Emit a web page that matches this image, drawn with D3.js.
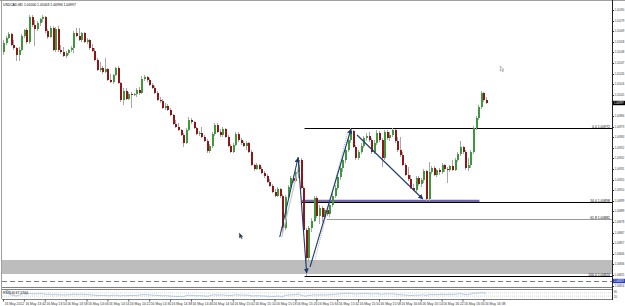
<!DOCTYPE html>
<html>
<head>
<meta charset="utf-8">
<script src="https://cdn.jsdelivr.net/npm/d3@7/dist/d3.min.js"></script>
<style>
  body { margin: 0; background: #fff; }
  svg { display: block; }
  text { font-family: "Liberation Sans", Arial, sans-serif; }
</style>
</head>
<body>
<div id="chart"></div>
<script>
// ---- data (USDCAD M1, 16 May 2012) ----
const symbol = "USDCAD,M1";

const open = [
  1.01048,1.01057,1.01062,1.01066,1.01055,1.01052,1.01045,1.01050,1.01064,1.01070,
  1.01058,1.01083,1.01075,1.01071,1.01077,1.01081,1.01083,1.01069,1.01063,1.01072,
  1.01050,1.01071,1.01050,1.01048,1.01044,1.01047,1.01050,1.01052,1.01067,1.01064,
  1.01060,1.01067,1.01058,1.01060,1.01052,1.01049,1.01040,1.01030,1.01032,1.01028,
  1.01031,1.01020,1.01018,1.01025,1.01032,1.01017,1.01000,1.01009,1.01001,1.01006,
  1.01005,1.01006,1.01010,1.01007,1.01021,1.01023,1.01020,1.01015,1.01012,1.01007,
  1.01000,1.00999,1.00992,1.00994,1.00990,1.00985,1.00976,1.00973,1.00970,1.00965,
  1.00957,1.00970,1.00980,1.00978,1.00972,1.00966,1.00967,1.00963,1.00959,1.00949,
  1.00954,1.00966,1.00975,1.00968,1.00965,1.00971,1.00963,1.00954,1.00948,1.00955,
  1.00966,1.00960,1.00957,1.00954,1.00957,1.00948,1.00935,1.00931,1.00935,1.00931,
  1.00927,1.00924,1.00918,1.00914,1.00908,1.00904,1.00911,1.00904,1.00872,1.00903,
  1.00913,1.00922,1.00919,1.00928,1.00940,1.00912,1.00870,1.00842,1.00872,1.00879,
  1.00902,1.00884,1.00892,1.00883,1.00890,1.00886,1.00895,1.00904,1.00912,1.00923,
  1.00932,1.00940,1.00950,1.00960,1.00969,1.00953,1.00942,1.00948,1.00954,1.00962,
  1.00964,1.00960,1.00948,1.00957,1.00967,1.00960,1.00942,1.00968,1.00962,1.00965,
  1.00970,1.00959,1.00950,1.00945,1.00935,1.00925,1.00921,1.00912,1.00910,1.00922,
  1.00916,1.00920,1.00929,1.00901,1.00928,1.00932,1.00925,1.00930,1.00928,1.00935,
  1.00931,1.00930,1.00934,1.00930,1.00940,1.00946,1.00953,1.00948,1.00932,1.00935,
  1.00948,1.00972,1.00982,1.00993,1.01007,1.01000
];
const high = [
  1.01060,1.01064,1.01068,1.01067,1.01060,1.01053,1.01053,1.01066,1.01071,1.01072,
  1.01085,1.01085,1.01080,1.01079,1.01082,1.01085,1.01084,1.01071,1.01074,1.01074,
  1.01073,1.01074,1.01055,1.01053,1.01049,1.01051,1.01054,1.01069,1.01072,1.01072,
  1.01068,1.01068,1.01062,1.01061,1.01056,1.01052,1.01042,1.01038,1.01034,1.01042,
  1.01032,1.01026,1.01026,1.01033,1.01034,1.01018,1.01012,1.01012,1.01008,1.01008,
  1.01007,1.01012,1.01013,1.01024,1.01025,1.01024,1.01022,1.01017,1.01014,1.01009,
  1.01003,1.01001,1.00997,1.00996,1.00992,1.00986,1.00980,1.00977,1.00971,1.00967,
  1.00972,1.00983,1.00982,1.00979,1.00973,1.00969,1.00973,1.00965,1.00961,1.00956,
  1.00968,1.00977,1.00977,1.00971,1.00973,1.00972,1.00965,1.00956,1.00957,1.00968,
  1.00968,1.00962,1.00959,1.00959,1.00958,1.00950,1.00936,1.00937,1.00936,1.00933,
  1.00929,1.00926,1.00921,1.00916,1.00911,1.00913,1.00912,1.00906,1.00905,1.00915,
  1.00924,1.00925,1.00930,1.00943,1.00942,1.00914,1.00872,1.00874,1.00882,1.00904,
  1.00904,1.00895,1.00894,1.00892,1.00893,1.00898,1.00907,1.00915,1.00925,1.00934,
  1.00942,1.00952,1.00963,1.00972,1.00970,1.00955,1.00950,1.00957,1.00964,1.00967,
  1.00968,1.00962,1.00960,1.00970,1.00969,1.00962,1.00970,1.00970,1.00968,1.00972,
  1.00971,1.00963,1.00963,1.00948,1.00937,1.00933,1.00925,1.00916,1.00924,1.00924,
  1.00922,1.00931,1.00930,1.00938,1.00934,1.00934,1.00931,1.00932,1.00937,1.00936,
  1.00933,1.00935,1.00940,1.00942,1.00948,1.00959,1.00954,1.00950,1.00942,1.00950,
  1.00974,1.00984,1.00995,1.01009,1.01008,1.01003
];
const low = [
  1.01045,1.01055,1.01061,1.01054,1.01050,1.01039,1.01039,1.01049,1.01062,1.01056,
  1.01056,1.01073,1.01054,1.01069,1.01074,1.01078,1.01067,1.01061,1.01062,1.01049,
  1.01048,1.01048,1.01046,1.01043,1.01042,1.01045,1.01048,1.01047,1.01063,1.01059,
  1.01058,1.01057,1.01056,1.01050,1.01048,1.01039,1.01029,1.01028,1.01026,1.01027,
  1.01019,1.01017,1.01016,1.01024,1.01016,1.00998,1.00995,1.01000,1.01000,1.00992,
  1.01004,1.01003,1.01005,1.01006,1.01019,1.01018,1.01014,1.01011,1.01006,1.00999,
  1.00997,1.00991,1.00990,1.00989,1.00984,1.00975,1.00972,1.00969,1.00964,1.00953,
  1.00956,1.00969,1.00976,1.00971,1.00965,1.00964,1.00962,1.00958,1.00947,1.00947,
  1.00952,1.00964,1.00967,1.00963,1.00963,1.00962,1.00953,1.00947,1.00947,1.00954,
  1.00958,1.00955,1.00953,1.00950,1.00947,1.00934,1.00929,1.00930,1.00930,1.00926,
  1.00922,1.00917,1.00913,1.00907,1.00903,1.00903,1.00902,1.00867,1.00870,1.00901,
  1.00911,1.00917,1.00918,1.00922,1.00911,1.00868,1.00824,1.00838,1.00868,1.00878,
  1.00882,1.00876,1.00878,1.00881,1.00884,1.00883,1.00893,1.00902,1.00910,1.00920,
  1.00928,1.00937,1.00948,1.00957,1.00952,1.00940,1.00940,1.00946,1.00952,1.00959,
  1.00958,1.00946,1.00946,1.00955,1.00958,1.00933,1.00940,1.00960,1.00959,1.00963,
  1.00957,1.00948,1.00943,1.00934,1.00924,1.00919,1.00911,1.00909,1.00908,1.00914,
  1.00913,1.00917,1.00899,1.00899,1.00926,1.00924,1.00923,1.00925,1.00926,1.00928,
  1.00917,1.00928,1.00929,1.00929,1.00938,1.00944,1.00946,1.00930,1.00929,1.00932,
  1.00946,1.00970,1.00980,1.00991,1.00998,1.00996
];
const close = [
  1.01057,1.01062,1.01066,1.01055,1.01052,1.01045,1.01050,1.01064,1.01070,1.01058,
  1.01083,1.01075,1.01071,1.01077,1.01081,1.01083,1.01069,1.01063,1.01072,1.01050,
  1.01071,1.01050,1.01048,1.01044,1.01047,1.01050,1.01052,1.01067,1.01064,1.01060,
  1.01067,1.01058,1.01060,1.01052,1.01049,1.01040,1.01030,1.01032,1.01028,1.01031,
  1.01020,1.01018,1.01025,1.01032,1.01017,1.01000,1.01009,1.01001,1.01006,1.01005,
  1.01006,1.01010,1.01007,1.01021,1.01023,1.01020,1.01015,1.01012,1.01007,1.01000,
  1.00999,1.00992,1.00994,1.00990,1.00985,1.00976,1.00973,1.00970,1.00965,1.00957,
  1.00970,1.00980,1.00978,1.00972,1.00966,1.00967,1.00963,1.00959,1.00949,1.00954,
  1.00966,1.00975,1.00968,1.00965,1.00971,1.00963,1.00954,1.00948,1.00955,1.00966,
  1.00960,1.00957,1.00954,1.00957,1.00948,1.00935,1.00931,1.00935,1.00931,1.00927,
  1.00924,1.00918,1.00914,1.00908,1.00904,1.00911,1.00904,1.00872,1.00903,1.00913,
  1.00922,1.00919,1.00928,1.00940,1.00912,1.00870,1.00842,1.00872,1.00879,1.00902,
  1.00884,1.00892,1.00883,1.00890,1.00886,1.00895,1.00904,1.00912,1.00923,1.00932,
  1.00940,1.00950,1.00960,1.00969,1.00953,1.00942,1.00948,1.00954,1.00962,1.00964,
  1.00960,1.00948,1.00957,1.00967,1.00960,1.00942,1.00968,1.00962,1.00965,1.00970,
  1.00959,1.00950,1.00945,1.00935,1.00925,1.00921,1.00912,1.00910,1.00922,1.00916,
  1.00920,1.00929,1.00901,1.00928,1.00932,1.00925,1.00930,1.00928,1.00935,1.00931,
  1.00930,1.00934,1.00930,1.00940,1.00946,1.00953,1.00948,1.00932,1.00935,1.00948,
  1.00972,1.00982,1.00993,1.01007,1.01000,1.00997
];

// right price scale labels
const priceTicks = [
  1.01090,1.01079,1.01069,1.01058,1.01048,1.01037,1.01026,1.01016,1.01005,1.00995,
  1.00984,1.00973,1.00963,1.00952,1.00942,1.00931,1.00920,1.00910,1.00899,1.00889,
  1.00878,1.00867,1.00857,1.00846,1.00836,1.00825,1.00814
];

// time scale labels (bar index -> label)
const timeBars = [0,8,16,24,32,40,48,56,64,72,80,88,96,104,112,120,128,136,144,152,160,168,176,184];
const timeLabels = [
  "16 May 2012","16 May 13:42","16 May 13:50","16 May 13:58","16 May 14:06","16 May 14:14",
  "16 May 14:22","16 May 14:30","16 May 14:38","16 May 14:46","16 May 14:54","16 May 15:02",
  "16 May 15:10","16 May 15:18","16 May 15:26","16 May 15:34","16 May 15:42","16 May 15:50",
  "16 May 15:58","16 May 16:06","16 May 16:14","16 May 16:22","16 May 16:30","16 May 16:38"
];

// fibonacci retracement drawn on the chart
const fibLevels = [0, 50, 61.8, 100];
const fibColors = ["#000", "#000", "#9a9a9a", "#000"];
const fibStartBar = [115.5, 114.5, 124, 115.5];
const fibHigh = 1.00972, fibLow = 1.00824;

// other objects: support zone, purple level, dashed level, arrows
const zone = [1.00840, 1.00826];
const purpleLevel = {price: 1.00899, from: 114.5, to: 182.5};
const dashedLevel = 1.00819;
const arrowFrom = [[106, 1.00863], [113, 1.00943], [117.6, 1.00833], [135.6, 1.00965]];
const arrowTo   = [[113, 1.00942], [116.3, 1.00827], [133.3, 1.00971], [160.8, 1.00901]];
const cursors = [[90.5, 1.00867, "#1c3560"], [190.5, 1.01034, "#fff"]];

// ---- layout ----
const W = 625, H = 306;
const plot = {left: 2, right: 612, top: 2, bottom: 287};
const sub = {top: 290, bottom: 299};
const fs = 3.4;    // chart texts
const afs = 2.7;   // price scale texts

const svg = d3.select("#chart").append("svg")
  .attr("width", W).attr("height", H);
svg.append("rect").attr("width", W).attr("height", H).attr("fill", "#fff");

const x = d3.scaleLinear().domain([0, close.length - 1]).range([3, 486]);
const y = d3.scaleLinear().domain([1.01100, 1.00813]).range([0, plot.bottom]);
const bars = d3.range(close.length);
const n = close.length - 1;

svg.append("clipPath").attr("id", "clipMain")
  .append("rect").attr("x", plot.left).attr("y", plot.top)
  .attr("width", plot.right - plot.left).attr("height", plot.bottom - plot.top);

const main = svg.append("g").attr("clip-path", "url(#clipMain)");

// support zone
main.append("rect")
  .attr("x", plot.left).attr("width", plot.right - plot.left)
  .attr("y", y(zone[0])).attr("height", y(zone[1]) - y(zone[0]))
  .attr("fill", "#bdbdbd");

// dashed level
main.append("line")
  .attr("x1", plot.left).attr("x2", plot.right)
  .attr("y1", Math.round(y(dashedLevel)) + 0.5).attr("y2", Math.round(y(dashedLevel)) + 0.5)
  .attr("stroke", "#7c7c98").attr("stroke-dasharray", "5,3");

// purple level
main.append("line")
  .attr("x1", x(purpleLevel.from)).attr("x2", x(purpleLevel.to))
  .attr("y1", y(purpleLevel.price)).attr("y2", y(purpleLevel.price))
  .attr("stroke", "#7566a8").attr("stroke-width", 2.4);

// fib levels
fibLevels.forEach((lv, k) => {
  const p = fibHigh - (fibHigh - fibLow) * lv / 100;
  const yy = Math.round(y(p)) + 0.5;
  main.append("line")
    .attr("x1", x(fibStartBar[k])).attr("x2", plot.right)
    .attr("y1", yy).attr("y2", yy)
    .attr("stroke", fibColors[k]).attr("stroke-width", 1);
  main.append("text")
    .attr("x", plot.right - 2).attr("y", yy - 1)
    .attr("text-anchor", "end").attr("font-size", fs).attr("fill", "#000")
    .text(lv.toFixed(1) + " " + p.toFixed(5));
});

// candles
main.append("g").selectAll("line")
  .data(bars).join("line")
    .attr("x1", i => Math.round(x(i)) + 0.5).attr("x2", i => Math.round(x(i)) + 0.5)
    .attr("y1", i => y(high[i])).attr("y2", i => y(low[i]))
    .attr("stroke", "#a8a8a8").attr("stroke-width", 1);

main.append("g").selectAll("rect")
  .data(bars).join("rect")
    .attr("x", i => Math.round(x(i)))
    .attr("width", 2)
    .attr("y", i => y(Math.max(open[i], close[i])))
    .attr("height", i => Math.max(1, Math.abs(y(open[i]) - y(close[i]))))
    .attr("fill", i => close[i] > open[i] ? "#3c9a3c" : close[i] < open[i] ? "#8e1616" : "#555");

// arrows
const defs = svg.append("defs");
defs.append("marker").attr("id", "ah")
  .attr("viewBox", "0 0 10 10").attr("refX", 9).attr("refY", 5)
  .attr("markerUnits", "userSpaceOnUse").attr("markerWidth", 5).attr("markerHeight", 5)
  .attr("orient", "auto")
  .append("path").attr("d", "M0,0 L10,5 L0,10 Z").attr("fill", "#1c3a6c");

// faint companion lines of the first and third arrow
main.append("line")
  .attr("x1", x(arrowFrom[0][0]) + 2).attr("y1", y(arrowFrom[0][1]))
  .attr("x2", x(arrowTo[0][0]) + 2).attr("y2", y(arrowTo[0][1]) + 3)
  .attr("stroke", "#c8c8c8").attr("stroke-width", 1.2);
main.append("line")
  .attr("x1", x(arrowFrom[2][0]) + 3).attr("y1", y(arrowFrom[2][1]))
  .attr("x2", x(arrowTo[2][0]) - 3).attr("y2", y(arrowTo[2][1]) + 2)
  .attr("stroke", "#b0b0b0").attr("stroke-dasharray", "1,1");

main.append("g").selectAll("line")
  .data(arrowFrom).join("line")
    .attr("x1", d => x(d[0])).attr("y1", d => y(d[1]))
    .attr("x2", (d, k) => x(arrowTo[k][0])).attr("y2", (d, k) => y(arrowTo[k][1]))
    .attr("stroke", "#1c3a6c").attr("stroke-width", 1.1)
    .attr("marker-end", "url(#ah)");

// mouse cursors left on the screenshot
cursors.forEach(c => {
  main.append("path")
    .attr("transform", `translate(${x(c[0])},${y(c[1])})`)
    .attr("d", "M0,0 L0,5 L1.2,3.9 L2.2,5.8 L3,5.4 L2,3.6 L3.6,3.6 Z")
    .attr("fill", c[2]).attr("stroke", "#555").attr("stroke-width", 0.4);
});

// header text
svg.append("text").attr("x", 3).attr("y", 6).attr("font-size", fs).attr("fill", "#000")
  .text(`${symbol}  ${open[n].toFixed(5)} ${high[n].toFixed(5)} ${low[n].toFixed(5)} ${close[n].toFixed(5)}`);

// frame
svg.append("line").attr("x1", 0).attr("x2", W).attr("y1", 0.5).attr("y2", 0.5).attr("stroke", "#a0a0a0");
svg.append("line").attr("x1", 1.5).attr("x2", 1.5).attr("y1", 0).attr("y2", sub.bottom).attr("stroke", "#a0a0a0");
svg.append("line").attr("x1", plot.left).attr("x2", plot.right).attr("y1", plot.bottom + 0.5).attr("y2", plot.bottom + 0.5).attr("stroke", "#808080");
svg.append("line").attr("x1", plot.left).attr("x2", plot.right).attr("y1", sub.top - 0.5).attr("y2", sub.top - 0.5).attr("stroke", "#808080");

// right price axis (ticks hidden where a highlighted price label sits)
const highlighted = [[close[n], "#000"], [dashedLevel, "#2b3fc4"]];
const shownTicks = priceTicks.filter(t => highlighted.every(h => Math.abs(y(t) - y(h[0])) > 4.5));
const yAxis = g => g
  .attr("transform", `translate(${plot.right + 0.5},0)`)
  .call(d3.axisRight(y).tickValues(shownTicks).tickSize(1.5).tickPadding(0.5).tickFormat(d3.format(".5f")))
  .call(g => g.select(".domain").remove())
  .call(g => g.selectAll("text").attr("font-size", afs).attr("fill", "#333"))
  .call(g => g.selectAll("line").attr("stroke", "#333"));
svg.append("g").call(yAxis);
svg.append("line").attr("x1", plot.right + 0.5).attr("x2", plot.right + 0.5)
  .attr("y1", 0).attr("y2", sub.bottom + 1).attr("stroke", "#222");

// highlighted prices on the axis: last bid and dashed level
highlighted.forEach(([p, col]) => {
  const yy = y(p);
  svg.append("rect").attr("x", plot.right + 1).attr("y", yy - 2.2)
    .attr("width", W - plot.right - 1).attr("height", 4.4).attr("fill", col);
  svg.append("text").attr("x", plot.right + 2).attr("y", yy + 1)
    .attr("font-size", afs).attr("fill", "#fff")
    .text(p.toFixed(5));
});

// RSI(14) sub-window, computed from the closes
const rsi = [];
let avgGain = 0, avgLoss = 0;
for (let i = 1; i < close.length; i++) {
  const ch = close[i] - close[i - 1];
  const k = Math.min(i, 14);
  avgGain = (avgGain * (k - 1) + Math.max(ch, 0)) / k;
  avgLoss = (avgLoss * (k - 1) + Math.max(-ch, 0)) / k;
  rsi.push([i, avgLoss === 0 ? 100 : 100 - 100 / (1 + avgGain / avgLoss)]);
}
const ySub = d3.scaleLinear().domain([0, 100]).range([sub.bottom - 0.5, sub.top + 0.5]);

[30, 70].forEach(v => {
  svg.append("line").attr("x1", plot.left).attr("x2", plot.right)
    .attr("y1", ySub(v)).attr("y2", ySub(v))
    .attr("stroke", "#b4b4b4").attr("stroke-width", 0.6).attr("stroke-dasharray", "1,1");
});
svg.append("path").datum(rsi)
  .attr("d", d3.line().x(d => x(d[0])).y(d => ySub(d[1])))
  .attr("fill", "none").attr("stroke", "#97bfe3").attr("stroke-width", 0.8);
svg.append("text").attr("x", 3).attr("y", sub.top + 4).attr("font-size", fs).attr("fill", "#000")
  .text("RSI(14) " + rsi[rsi.length - 1][1].toFixed(4));
svg.append("text").attr("x", plot.right + 2).attr("y", sub.top + 3).attr("font-size", afs).attr("fill", "#333").text("80");
svg.append("text").attr("x", plot.right + 2).attr("y", sub.top + 7.5).attr("font-size", afs).attr("fill", "#333").text("20");

// time axis
const xAxis = g => g
  .attr("transform", `translate(0,${sub.bottom + 0.5})`)
  .call(d3.axisBottom(x).tickValues(timeBars).tickSize(2).tickPadding(1).tickFormat((d, k) => timeLabels[k]))
  .call(g => g.select(".domain").attr("d", `M${plot.left},0H${plot.right}`).attr("stroke", "#808080"))
  .call(g => g.selectAll("text").attr("font-size", fs).attr("fill", "#333")
    .attr("text-anchor", "start").attr("dx", 1))
  .call(g => g.selectAll("line").attr("stroke", "#555"));
svg.append("g").call(xAxis);
</script>
</body>
</html>
